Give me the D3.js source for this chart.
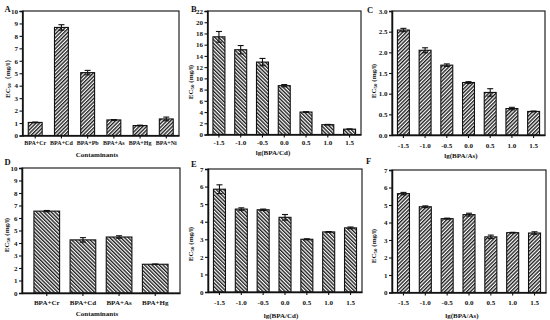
<!DOCTYPE html>
<html>
<head>
<meta charset="utf-8">
<script src="https://cdn.jsdelivr.net/npm/d3@7/dist/d3.min.js"></script>
<style>
  body { margin: 0; background: #fff; }
  svg text { font-family: "Liberation Serif", "Times New Roman", serif; font-weight: bold; fill: #111; }
</style>
</head>
<body>
<div id="chart"></div>
<script>
var width = 550, height = 320;

// data
var metalsA = ["BPA+Cr", "BPA+Cd", "BPA+Pb", "BPA+As", "BPA+Hg", "BPA+Ni"];
var ec50A = [1.05, 8.68, 5.05, 1.25, 0.8, 1.33];
var errA = [0.03, 0.22, 0.18, 0.03, 0.03, 0.15];

var ratios = ["-1.5", "-1.0", "-0.5", "0.0", "0.5", "1.0", "1.5"];

var ec50B = [17.4, 15.1, 12.9, 8.7, 4.0, 1.75, 0.95];
var errB = [0.95, 0.75, 0.65, 0.2, 0.06, 0.05, 0.05];

var ec50C = [2.54, 2.05, 1.69, 1.27, 1.03, 0.64, 0.57];
var errC = [0.04, 0.06, 0.03, 0.02, 0.09, 0.03, 0.01];

var metalsD = ["BPA+Cr", "BPA+Cd", "BPA+As", "BPA+Hg"];
var ec50D = [6.55, 4.25, 4.48, 2.3];
var errD = [0.05, 0.18, 0.1, 0.02];

var ec50E = [5.85, 4.72, 4.68, 4.25, 3.0, 3.42, 3.65];
var errE = [0.25, 0.07, 0.04, 0.16, 0.03, 0.02, 0.05];

var ec50F = [5.65, 4.9, 4.22, 4.45, 3.18, 3.42, 3.4];
var errF = [0.07, 0.05, 0.03, 0.08, 0.1, 0.02, 0.07];

var svg = d3.select("#chart")
  .append("svg")
    .attr("width", width)
    .attr("height", height);

var defs = svg.append("defs");
[["fwd", 45], ["back", -45]].forEach(function(p) {
  var pat = defs.append("pattern")
      .attr("id", "hatch-" + p[0])
      .attr("patternUnits", "userSpaceOnUse")
      .attr("width", 2.6).attr("height", 2.6)
      .attr("patternTransform", "rotate(" + p[1] + ")");
  pat.append("rect").attr("width", 2.6).attr("height", 2.6).attr("fill", "#fff");
  pat.append("line")
      .attr("x1", 0.7).attr("y1", 0).attr("x2", 0.7).attr("y2", 2.6)
      .attr("stroke", "#111").attr("stroke-width", 1.3);
});

function panel(o) {
  var g = svg.append("g");

  var x = d3.scaleBand()
      .domain(o.cats)
      .range([o.left, o.right])
      .paddingInner(o.pi)
      .paddingOuter(o.po);

  var y = d3.scaleLinear()
      .domain([0, o.yMax])
      .range([o.bottom, o.top]);

  // bars
  g.selectAll("rect.bar")
      .data(o.vals)
    .enter().append("rect")
      .attr("class", "bar")
      .attr("x", function(d, i) { return x(o.cats[i]); })
      .attr("width", x.bandwidth())
      .attr("y", function(d) { return y(d); })
      .attr("height", function(d) { return y(0) - y(d); })
      .attr("fill", "url(#hatch-" + o.hatch + ")")
      .attr("stroke", "#111")
      .attr("stroke-width", 1.1);

  // error bars
  var cap = 3;
  var eb = g.selectAll("g.err")
      .data(o.vals)
    .enter().append("g")
      .attr("class", "err")
      .attr("stroke", "#111")
      .attr("stroke-width", 1.1);
  eb.append("line")
      .attr("x1", function(d, i) { return x(o.cats[i]) + x.bandwidth() / 2; })
      .attr("x2", function(d, i) { return x(o.cats[i]) + x.bandwidth() / 2; })
      .attr("y1", function(d, i) { return y(d - o.errs[i]); })
      .attr("y2", function(d, i) { return y(d + o.errs[i]); });
  [1, -1].forEach(function(s) {
    eb.append("line")
        .attr("x1", function(d, i) { return x(o.cats[i]) + x.bandwidth() / 2 - cap; })
        .attr("x2", function(d, i) { return x(o.cats[i]) + x.bandwidth() / 2 + cap; })
        .attr("y1", function(d, i) { return y(d + s * o.errs[i]); })
        .attr("y2", function(d, i) { return y(d + s * o.errs[i]); });
  });

  // frame
  g.append("rect")
      .attr("x", o.left).attr("y", o.top)
      .attr("width", o.right - o.left).attr("height", o.bottom - o.top)
      .attr("fill", "none")
      .attr("stroke", "#222")
      .attr("stroke-width", 1.2);

  // y axis
  var yAxis = d3.axisLeft(y)
      .tickValues(d3.range(0, o.yMax + o.yStep / 2, o.yStep))
      .tickFormat(d3.format(o.fmt))
      .tickSize(3)
      .tickPadding(1.5);
  var ya = g.append("g")
      .attr("transform", "translate(" + o.left + ",0)")
      .call(yAxis);
  ya.select(".domain").attr("stroke", "#111").attr("stroke-width", 1.5);
  ya.selectAll(".tick line").attr("stroke", "#111").attr("stroke-width", 1.1);
  ya.selectAll("text").attr("font-size", 7).attr("font-family", null);

  // x axis
  var xAxis = d3.axisBottom(x).tickSize(3).tickSizeOuter(0).tickPadding(o.xPad);
  var xa = g.append("g")
      .attr("transform", "translate(0," + o.bottom + ")")
      .call(xAxis);
  xa.select(".domain").attr("stroke", "#111").attr("stroke-width", 1.5);
  xa.selectAll(".tick line").attr("stroke", "#111").attr("stroke-width", 1.1);
  xa.selectAll("text").attr("font-size", o.xFont).attr("font-family", null);

  // axis titles
  g.append("text")
      .attr("x", o.titleX)
      .attr("y", o.titleY)
      .attr("text-anchor", "middle")
      .attr("font-size", 7)
      .text(o.xTitle);

  var yt = g.append("text")
      .attr("transform", "translate(" + o.yTitleX + "," + o.yTitleY + ") rotate(-90)")
      .attr("text-anchor", "middle")
      .attr("font-size", 7);
  yt.append("tspan").text("EC");
  yt.append("tspan").attr("font-size", 5).attr("dy", 1.5).text("50");
  yt.append("tspan").attr("dy", -1.5).text(o.unit);

  // panel letter
  g.append("text")
      .attr("x", o.letterX)
      .attr("y", o.letterY)
      .attr("font-size", 8.5)
      .text(o.letter);
}

panel({ letter: "A", letterX: 4.5, letterY: 11.5, cats: metalsA, vals: ec50A, errs: errA,
  left: 22.5, right: 179, top: 11, bottom: 135.5, pi: 0.47, po: 0.22,
  yMax: 10, yStep: 1, fmt: "d", hatch: "fwd", xFont: 6, xPad: 2.5,
  xTitle: "Contaminants", titleX: 97, titleY: 157, yTitleX: 9.5, yTitleY: 77, unit: "（mg/l）" });

panel({ letter: "B", letterX: 191, letterY: 11.5, cats: ratios, vals: ec50B, errs: errB,
  left: 207.5, right: 361, top: 11, bottom: 134.5, pi: 0.45, po: 0.25,
  yMax: 22, yStep: 2, fmt: "d", hatch: "back", xFont: 7, xPad: 2.5,
  xTitle: "lg(BPA/Cd)", titleX: 273, titleY: 155, yTitleX: 192.5, yTitleY: 82, unit: " (mg/l)" });

panel({ letter: "C", letterX: 367, letterY: 12.5, cats: ratios, vals: ec50C, errs: errC,
  left: 392, right: 545, top: 11, bottom: 135, pi: 0.45, po: 0.25,
  yMax: 3, yStep: 0.5, fmt: ".1f", hatch: "fwd", xFont: 7, xPad: 5,
  xTitle: "lg(BPA/As)", titleX: 461, titleY: 158, yTitleX: 375.5, yTitleY: 81, unit: " (mg/l)" });

panel({ letter: "D", letterX: 4.5, letterY: 165, cats: metalsD, vals: ec50D, errs: errD,
  left: 22, right: 180, top: 168, bottom: 293, pi: 0.29, po: 0.33,
  yMax: 10, yStep: 1, fmt: "d", hatch: "back", xFont: 7, xPad: 4,
  xTitle: "Contaminants", titleX: 97, titleY: 315.5, yTitleX: 8.5, yTitleY: 235, unit: " (mg/l)" });

panel({ letter: "E", letterX: 191, letterY: 167, cats: ratios, vals: ec50E, errs: errE,
  left: 208, right: 362, top: 169, bottom: 292, pi: 0.45, po: 0.25,
  yMax: 7, yStep: 1, fmt: "d", hatch: "back", xFont: 7, xPad: 5,
  xTitle: "lg(BPA/Cd)", titleX: 281, titleY: 317.5, yTitleX: 192.5, yTitleY: 244, unit: " (mg/l)" });

panel({ letter: "F", letterX: 366, letterY: 164, cats: ratios, vals: ec50F, errs: errF,
  left: 392, right: 546, top: 170, bottom: 292.5, pi: 0.45, po: 0.25,
  yMax: 7, yStep: 1, fmt: "d", hatch: "fwd", xFont: 7, xPad: 5,
  xTitle: "lg(BPA/As)", titleX: 462, titleY: 317.5, yTitleX: 375.5, yTitleY: 246, unit: " (mg/l)" });
</script>
</body>
</html>
